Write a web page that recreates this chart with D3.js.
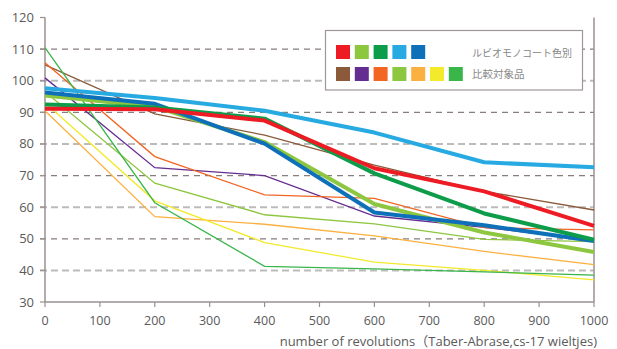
<!DOCTYPE html>
<html>
<head>
<meta charset="utf-8">
<style>
body { margin: 0; background: #fff; }
svg text { font-family: "Open Sans", "Noto Sans CJK JP", sans-serif; fill: #5a5a5a; }
</style>
</head>
<body>
<svg id="chart" width="617" height="349"></svg>
<script src="https://d3js.org/d3.v7.min.js"></script>
<script>

// revolutions
var revs = [0, 200, 400, 600, 800, 1000];
var yTicks = [30, 40, 50, 60, 70, 80, 90, 100, 110, 120];
var xTicks = [0, 100, 200, 300, 400, 500, 600, 700, 800, 900, 1000];

// comparison products (thin lines)
var brown     = [105, 89.5, 82.8, 73.3, 65, 59.1];
var purple    = [100.9, 72.5, 70, 57.2, 53.6, 49.5];
var orange    = [105.7, 76, 63.9, 62.8, 53.5, 52.8];
var ltGreen   = [96.5, 67.6, 57.6, 54.7, 49.8, 49.1];
var amber     = [90.5, 57, 54.6, 50.9, 46, 41.8];
var yellow    = [93, 62, 48.8, 42.6, 40, 37];
var green     = [110.5, 61.4, 41.3, 40.5, 39.5, 38.5];

// rubio monocoat colours (thick lines)
var rmLtGreen = [95.3, 91.8, 80.6, 61, 52, 45.8];
var rmBlue    = [96.3, 92.7, 80.1, 58.3, 54.3, 49.3];
var rmGreen   = [92.5, 91.5, 88, 70.7, 58, 49.7];
var rmRed     = [91.1, 91, 87.4, 72.3, 65, 54.1];
var rmSky     = [97.6, 94.5, 90.5, 83.6, 74.2, 72.6];

var thin = [
  {c: "#8a5a3a", v: brown},
  {c: "#662d91", v: purple},
  {c: "#f26522", v: orange},
  {c: "#8dc63f", v: ltGreen},
  {c: "#fbb040", v: amber},
  {c: "#f2ea2a", v: yellow},
  {c: "#39b54a", v: green}
];
var thick = [
  {c: "#8dc63f", v: rmLtGreen},
  {c: "#0e70b8", v: rmBlue},
  {c: "#0d9d4a", v: rmGreen},
  {c: "#ed1c24", v: rmRed},
  {c: "#27aae1", v: rmSky}
];

var svg = d3.select("#chart");
var x = d3.scaleLinear().domain([0, 1000]).range([45, 594]);
var y = d3.scaleLinear().domain([30, 120]).range([302, 17.5]);

// gridlines
svg.append("g").selectAll("line")
  .data(yTicks.filter(function(d) { return d > 30 && d < 120; }))
  .enter().append("line")
  .attr("x1", 40).attr("x2", 594)
  .attr("y1", function(d) { return y(d); })
  .attr("y2", function(d) { return y(d); })
  .attr("stroke", function(d) { return d % 20 === 0 ? "#bdbaba" : "#877d7d"; })
  .attr("stroke-width", function(d) { return d % 20 === 0 ? 2 : 1.2; })
  .attr("stroke-dasharray", function(d) { return d % 20 === 0 ? "7,4" : "6,5"; });

// axes
svg.append("line").attr("x1", 45).attr("x2", 45).attr("y1", y(120)).attr("y2", 302)
  .attr("stroke", "#9b9090").attr("stroke-width", 1.5);
svg.append("line").attr("x1", 594).attr("x2", 594).attr("y1", y(120)).attr("y2", 302)
  .attr("stroke", "#9b9090").attr("stroke-width", 1.5);
svg.append("line").attr("x1", 45).attr("x2", 594).attr("y1", 302).attr("y2", 302)
  .attr("stroke", "#9b9090").attr("stroke-width", 1.5);

svg.append("g").selectAll("line")
  .data(yTicks).enter().append("line")
  .attr("x1", 40).attr("x2", 45)
  .attr("y1", function(d) { return y(d); }).attr("y2", function(d) { return y(d); })
  .attr("stroke", "#9b9090").attr("stroke-width", 1.2);
svg.append("g").selectAll("line")
  .data(xTicks).enter().append("line")
  .attr("x1", function(d) { return x(d); }).attr("x2", function(d) { return x(d); })
  .attr("y1", 302).attr("y2", 307)
  .attr("stroke", "#9b9090").attr("stroke-width", 1.2);

svg.append("g").selectAll("text")
  .data(yTicks).enter().append("text")
  .attr("x", 34).attr("y", function(d) { return y(d) + 4.5; })
  .attr("text-anchor", "end").attr("font-size", 13)
  .text(function(d) { return d; });
svg.append("g").selectAll("text")
  .data(xTicks).enter().append("text")
  .attr("x", function(d) { return x(d); }).attr("y", 325)
  .attr("text-anchor", "middle").attr("font-size", 12.5)
  .text(function(d) { return d; });

svg.append("text")
  .attr("x", 597).attr("y", 346)
  .attr("text-anchor", "end").attr("font-size", 13)
  .text("number of revolutions（Taber-Abrase,cs-17 wieltjes)");

// lines
var line = d3.line()
  .x(function(d, i) { return x(revs[i]); })
  .y(function(d) { return y(d); });

svg.append("g").selectAll("path")
  .data(thin).enter().append("path")
  .attr("d", function(d) { return line(d.v); })
  .attr("fill", "none").attr("stroke", function(d) { return d.c; })
  .attr("stroke-width", 1.3);

svg.append("g").selectAll("path")
  .data(thick).enter().append("path")
  .attr("d", function(d) { return line(d.v); })
  .attr("fill", "none").attr("stroke", function(d) { return d.c; })
  .attr("stroke-width", 4).attr("stroke-linejoin", "round");

// legend
var legend = svg.append("g");
legend.append("rect")
  .attr("x", 325.5).attr("y", 30.5).attr("width", 257).attr("height", 59.5)
  .attr("fill", "#fff").attr("stroke", "#a09696").attr("stroke-width", 1.2);

var legendRow1 = ["#ed1c24", "#8dc63f", "#0d9d4a", "#27aae1", "#0e70b8"];
var legendRow2 = thin.map(function(d) { return d.c; });

legend.selectAll(".r1").data(legendRow1).enter().append("rect")
  .attr("x", function(d, i) { return 336 + i * 18.8; }).attr("y", 45)
  .attr("width", 14).attr("height", 14).attr("fill", function(d) { return d; });
legend.selectAll(".r2").data(legendRow2).enter().append("rect")
  .attr("x", function(d, i) { return 336 + i * 18.8; }).attr("y", 67)
  .attr("width", 14).attr("height", 14).attr("fill", function(d) { return d; });

legend.append("text").attr("x", 472).attr("y", 57).attr("font-size", 10)
  .style("fill", "#888")
  .text("ルビオモノコート色別");
legend.append("text").attr("x", 472).attr("y", 78).attr("font-size", 10.5)
  .style("fill", "#888")
  .text("比較対象品");

</script>
</body>
</html>
